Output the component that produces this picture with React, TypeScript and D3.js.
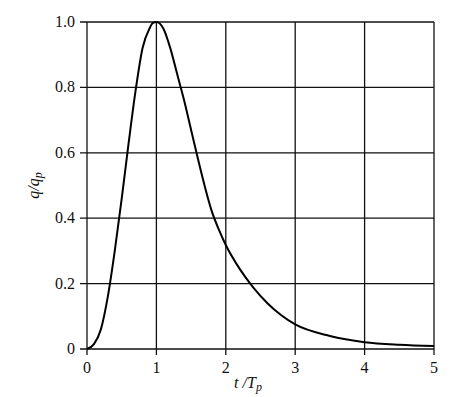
import * as d3 from 'd3'
import { useRef, useEffect } from 'react'

const tRatio = [0, 0.1, 0.2, 0.3, 0.4, 0.5, 0.6, 0.7, 0.8, 0.9, 0.95, 1.0, 1.05, 1.1, 1.2, 1.3, 1.4, 1.5, 1.6, 1.7, 1.8, 1.9, 2.0, 2.2, 2.4, 2.6, 2.8, 3.0, 3.5, 4.0, 4.5, 5.0]
const qRatio = [0, 0.015, 0.06, 0.16, 0.3, 0.46, 0.63, 0.79, 0.92, 0.98, 0.997, 1.0, 0.995, 0.98, 0.92, 0.84, 0.76, 0.67, 0.58, 0.495, 0.42, 0.365, 0.318, 0.245, 0.187, 0.14, 0.103, 0.075, 0.04, 0.021, 0.013, 0.009]
const xTicks = [0, 1, 2, 3, 4, 5]
const yTicks = [0, 0.2, 0.4, 0.6, 0.8, 1.0]

export default function App() {
    const svgRef = useRef(null) as any

    useEffect(() => {
        const w = 454
        const h = 397
        const left = 87
        const right = 434
        const top = 22
        const bottom = 349

        const svg = d3.select(svgRef.current)
        svg.selectAll('*').remove()

        const xScale = d3.scaleLinear().domain([0, 5]).range([left, right])
        const yScale = d3.scaleLinear().domain([0, 1]).range([bottom, top])

        // grid lines
        svg.append('g')
            .selectAll('line')
            .data(xTicks)
            .join('line')
            .attr('x1', d => xScale(d))
            .attr('x2', d => xScale(d))
            .attr('y1', top)
            .attr('y2', bottom + 6)
            .attr('stroke', '#111')
            .attr('stroke-width', 1.3)

        svg.append('g')
            .selectAll('line')
            .data(yTicks)
            .join('line')
            .attr('x1', left - 7)
            .attr('x2', right)
            .attr('y1', d => yScale(d))
            .attr('y2', d => yScale(d))
            .attr('stroke', '#111')
            .attr('stroke-width', 1.3)

        const font = 'Liberation Serif'

        svg.append('g')
            .selectAll('text')
            .data(xTicks)
            .join('text')
            .attr('x', d => xScale(d))
            .attr('y', bottom + 24)
            .attr('text-anchor', 'middle')
            .attr('font-family', font)
            .attr('font-size', 16)
            .attr('fill', '#111')
            .text(d => d3.format('d')(d))

        svg.append('g')
            .selectAll('text')
            .data(yTicks)
            .join('text')
            .attr('x', left - 12)
            .attr('y', d => yScale(d) + 5)
            .attr('text-anchor', 'end')
            .attr('font-family', font)
            .attr('font-size', 16)
            .attr('fill', '#111')
            .text(d => (d === 0 ? '0' : d3.format('.1f')(d)))

        // axis labels
        const xl = svg.append('text')
            .attr('x', 248)
            .attr('y', 388)
            .attr('text-anchor', 'middle')
            .attr('font-family', font)
            .attr('font-size', 16)
            .attr('font-style', 'italic')
            .attr('fill', '#111')
        xl.append('tspan').text('t /T')
        xl.append('tspan').attr('dy', 3).attr('font-size', 12).text('p')

        const yl = svg.append('text')
            .attr('transform', `translate(39,${(top + bottom) / 2}) rotate(-90)`)
            .attr('text-anchor', 'middle')
            .attr('font-family', font)
            .attr('font-size', 16)
            .attr('font-style', 'italic')
            .attr('fill', '#111')
        yl.append('tspan').text('q/q')
        yl.append('tspan').attr('dy', 3).attr('font-size', 12).text('p')

        const data = tRatio.map((t, i) => [t, qRatio[i]] as [number, number])
        const makeLine = d3.line()
            .x(d => xScale(d[0]))
            .y(d => yScale(d[1]))
            .curve(d3.curveMonotoneX)

        svg.append('path')
            .datum(data)
            .attr('d', makeLine as any)
            .attr('fill', 'none')
            .attr('stroke', '#000')
            .attr('stroke-width', 2)

        svg.attr('width', w).attr('height', h)
    }, [])

    return (
        <svg ref={svgRef} width={454} height={397}
            style={{ position: 'absolute', left: 0, top: 0, background: '#fff' }} />
    )
}
